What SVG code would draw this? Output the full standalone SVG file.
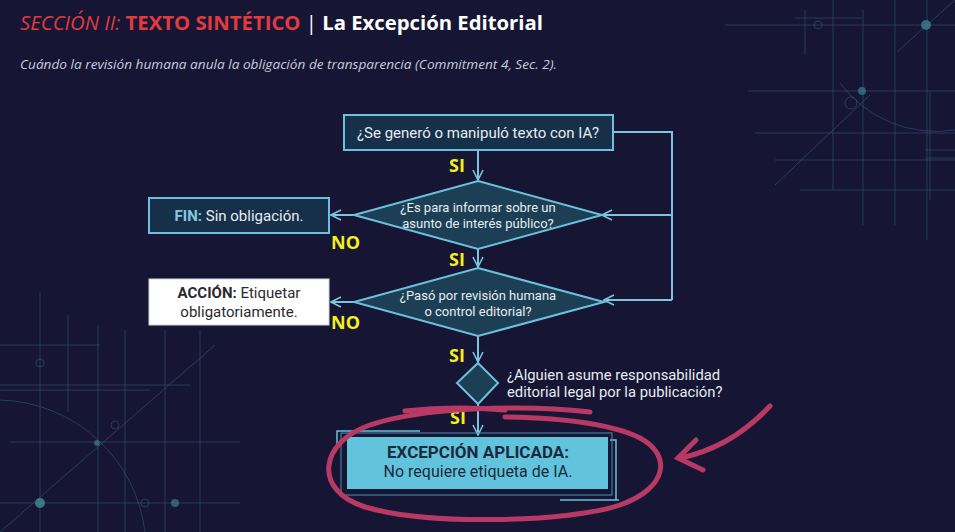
<svg xmlns="http://www.w3.org/2000/svg" width="955" height="532" viewBox="0 0 955 532">
<defs>
<style>
.bg{fill:#161634}
.deco{stroke:#3a5a7a;stroke-width:1;fill:none;opacity:0.55}
.box{fill:#173049;stroke:#6cc0dc;stroke-width:2}
.dia{fill:#1d3f55;stroke:#6cc0dc;stroke-width:2}
.conn{stroke:#7cc3dc;stroke-width:2;fill:none}
.t{font-family:Roboto,"Liberation Sans",sans-serif;font-size:15px;fill:#e6ecf2}
.lbl{font-family:"Open Sans","Liberation Sans",sans-serif;font-weight:bold;font-size:18px;fill:#f5ee1c}
.circ{stroke:#b83a64;stroke-width:5;fill:none;stroke-linecap:round}
</style>
<marker id="arr" viewBox="0 0 12 12" refX="11" refY="6" markerWidth="12" markerHeight="12" markerUnits="userSpaceOnUse" orient="auto">
<path d="M1,1 L11,6 L1,11" fill="none" stroke="#7cc3dc" stroke-width="1.6"/>
</marker>
</defs>
<rect class="bg" x="0" y="0" width="955" height="532"/>
<g id="decor">
<path class="deco" d="M725 25 H955 M748 91 H955 M755 133 H955 M775 160 H955 M800 190 H955 M805 10 V55 M833 0 V190 M863 10 V225 M895 0 V225 M927 0 V240 M897 52 L955 0 M775 185 L870 95 M795 18 H862 M930 92 V200 M925 150 H955 M925 158 H955"/>
<circle class="deco" cx="818" cy="25" r="4"/>
<circle cx="926" cy="25" r="5" fill="#3f8f99" opacity="0.7"/>
<circle class="deco" cx="851" cy="103" r="6"/>
<circle cx="862" cy="91" r="4" fill="#3f8f99" opacity="0.6"/>
<path class="deco" d="M840 83 A120 120 0 0 0 955 130"/>
<path class="deco" d="M0 345 H100 M0 385 H190 M0 390 H150 M10 442 H240 M0 503 H240 M40 292 V532 M68 315 V412 M98 325 V532 M125 330 V532 M165 330 V532 M200 330 V532 M0 532 L215 345"/>
<circle class="deco" cx="40" cy="363" r="4"/>
<circle class="deco" cx="115" cy="425" r="4"/>
<circle cx="97" cy="443" r="3" fill="#3f8f99" opacity="0.6"/>
<circle cx="40" cy="503" r="5" fill="#3f8f99" opacity="0.8"/>
<circle class="deco" cx="145" cy="503" r="4"/>
<circle cx="175" cy="503" r="4" fill="#3f8f99" opacity="0.6"/>
<path class="deco" d="M0 400 A150 150 0 0 1 145 532"/>
</g>
<g id="title">
<text x="20" y="30" font-family="'Open Sans','Liberation Sans',sans-serif" font-size="20" fill="#e23a3f" textLength="523" lengthAdjust="spacingAndGlyphs"><tspan font-style="italic">SECCIÓN II: </tspan><tspan font-weight="bold">TEXTO SINTÉTICO</tspan><tspan fill="#ffffff"> | </tspan><tspan font-weight="bold" fill="#ffffff">La Excepción Editorial</tspan></text>
<text x="20" y="69" font-family="'Open Sans','Liberation Sans',sans-serif" font-size="12.5" font-style="italic" fill="#c9ccda" textLength="537" lengthAdjust="spacingAndGlyphs">Cuándo la revisión humana anula la obligación de transparencia (Commitment 4, Sec. 2).</text>
</g>
<g id="connectors">
<path class="conn" d="M478 150 V180" marker-end="url(#arr)"/>
<path class="conn" d="M478 249 V267" marker-end="url(#arr)"/>
<path class="conn" d="M478 336 V362" marker-end="url(#arr)"/>
<path class="conn" d="M478 404 V435" marker-end="url(#arr)"/>
<path class="conn" d="M354 215 H331" marker-end="url(#arr)"/>
<path class="conn" d="M354 302 H331" marker-end="url(#arr)"/>
<path class="conn" d="M613 132 H672 V300"/>
<path class="conn" d="M672 215 H602" marker-end="url(#arr)"/>
<path class="conn" d="M672 300 H604" marker-end="url(#arr)"/>
<text class="lbl" x="449" y="172">SI</text>
<text class="lbl" x="449" y="266">SI</text>
<text class="lbl" x="449" y="362">SI</text>
<text class="lbl" x="450" y="424" font-size="16">SI</text>
<text class="lbl" x="331" y="249">NO</text>
<text class="lbl" x="331" y="329">NO</text>
</g>
<g id="q1">
<rect class="box" x="344" y="115" width="269" height="35"/>
<text class="t" x="478" y="138" text-anchor="middle" font-size="16">¿Se generó o manipuló texto con IA?</text>
</g>
<g id="q2">
<polygon class="dia" points="478,181 602,215 478,249 354,215"/>
<text class="t" x="478" y="212" text-anchor="middle" style="font-size:13px">¿Es para informar sobre un</text>
<text class="t" x="478" y="228" text-anchor="middle" style="font-size:13px">asunto de interés público?</text>
</g>
<g id="fin">
<rect class="box" x="149" y="198" width="180" height="35"/>
<text class="t" x="239" y="221" text-anchor="middle"><tspan font-weight="bold" fill="#86c9e0">FIN:</tspan> Sin obligación.</text>
</g>
<g id="q3">
<polygon class="dia" points="478,268 604,302 478,336 354,302"/>
<text class="t" x="478" y="300" text-anchor="middle" style="font-size:13px">¿Pasó por revisión humana</text>
<text class="t" x="478" y="316" text-anchor="middle" style="font-size:13px">o control editorial?</text>
</g>
<g id="accion">
<rect x="149" y="279" width="180" height="46" fill="#ffffff" stroke="#cfd6dc" stroke-width="1"/>
<text class="t" x="239" y="298" text-anchor="middle" style="fill:#2a2a2e"><tspan font-weight="bold">ACCIÓN:</tspan> Etiquetar</text>
<text class="t" x="239" y="317" text-anchor="middle" style="fill:#2a2a2e">obligatoriamente.</text>
</g>
<g id="q4">
<polygon class="dia" points="478,363 498,383 478,404 457,383"/>
<text class="t" x="507" y="380" style="font-size:14.8px">¿Alguien asume responsabilidad</text>
<text class="t" x="507" y="397" style="font-size:14.8px">editorial legal por la publicación?</text>
</g>
<g id="excepcion">
<path d="M337 450 V431 H420 M610 440 H616 V500 M560 500 H619" stroke="#6cc0dc" stroke-width="1.5" fill="none"/>
<rect x="341" y="433" width="271" height="62" fill="none" stroke="#4a8fb0" stroke-width="1"/>
<rect x="347" y="437" width="261" height="52" fill="#62c4dc"/>
<text x="478" y="458" text-anchor="middle" font-family="Roboto,'Liberation Sans',sans-serif" font-size="17" font-weight="bold" fill="#1b2a3c">EXCEPCIÓN APLICADA:</text>
<text x="478" y="477" text-anchor="middle" font-family="Roboto,'Liberation Sans',sans-serif" font-size="16" fill="#1b2a3c">No requiere etiqueta de IA.</text>
</g>
<g id="highlight">
<path class="circ" d="M590 412 C520 404 420 408 370 425 C320 442 312 490 365 507 C430 526 570 522 620 505 C668 488 672 455 640 438 C612 424 560 418 505 417"/>
<path class="circ" d="M505 410 C470 407 440 407 405 411"/>
<path class="circ" d="M770 406 C740 438 710 452 680 458"/>
<path class="circ" d="M696 440 L678 458 L703 470"/>
</g>
</svg>
